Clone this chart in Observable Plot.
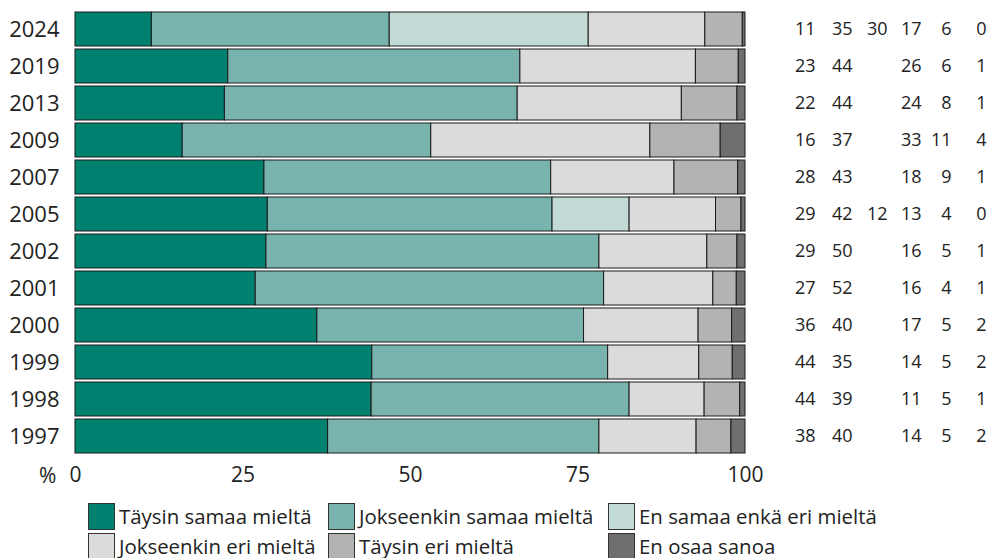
<!DOCTYPE html>
<html>
<head>
<meta charset="utf-8">
<script src="https://cdn.jsdelivr.net/npm/d3@7"></script>
<script src="https://cdn.jsdelivr.net/npm/@observablehq/plot@0.6"></script>
<style>
  body { margin: 0; background: #fff; font-family: "Open Sans", sans-serif; color: #222; }
  #chart svg { display: block; }
  .legend { display: grid; grid-template-columns: 240px 280px auto; grid-auto-rows: 29.4px; padding-left: 88px; margin-top: 6px; font-size: 20.4px; line-height: 1.2; }
  .item { display: flex; align-items: center; white-space: nowrap; }
  .sw { width: 25px; height: 25px; border: 1px solid #333; margin-right: 4px; flex: none; }
</style>
</head>
<body>
<div id="chart"></div>
<div class="legend" id="legend"></div>
<script>
const years = ["2024","2019","2013","2009","2007","2005","2002","2001","2000","1999","1998","1997"];
const categories = ["Täysin samaa mieltä","Jokseenkin samaa mieltä","En samaa enkä eri mieltä","Jokseenkin eri mieltä","Täysin eri mieltä","En osaa sanoa"];
const colors = ["#00806f","#78b4ad","#c2dbd7","#dbdbdb","#b3b3b3","#716e6f"];

// bar lengths
const taysinSamaa    = [11.4, 22.8, 22.3, 16.0, 28.2, 28.7, 28.5, 26.9, 36.1, 44.3, 44.2, 37.7];
const jokseenSamaa   = [35.5, 43.6, 43.7, 37.1, 42.8, 42.5, 49.7, 52.0, 39.8, 35.2, 38.5, 40.5];
const enSamaaEnkaEri = [29.7, 0, 0, 0, 0, 11.5, 0, 0, 0, 0, 0, 0];
const jokseenEri     = [17.4, 26.2, 24.5, 32.7, 18.4, 12.9, 16.1, 16.3, 17.1, 13.6, 11.2, 14.5];
const taysinEri      = [5.6, 6.4, 8.3, 10.5, 9.5, 3.8, 4.5, 3.5, 5.0, 5.0, 5.3, 5.2];
const enOsaa         = [0.4, 1.0, 1.2, 3.7, 1.1, 0.6, 1.2, 1.3, 2.0, 1.9, 0.8, 2.1];

// printed labels on the right
const lab1 = [11, 23, 22, 16, 28, 29, 29, 27, 36, 44, 44, 38];
const lab2 = [35, 44, 44, 37, 43, 42, 50, 52, 40, 35, 39, 40];
const lab3 = [30, null, null, null, null, 12, null, null, null, null, null, null];
const lab4 = [17, 26, 24, 33, 18, 13, 16, 16, 17, 14, 11, 14];
const lab5 = [6, 6, 8, 11, 9, 4, 5, 4, 5, 5, 5, 5];
const lab6 = [0, 1, 1, 4, 1, 0, 1, 1, 2, 2, 1, 2];

const xTicks = [0, 25, 50, 75, 100];
const unitLabel = "%";

const series = [taysinSamaa, jokseenSamaa, enSamaaEnkaEri, jokseenEri, taysinEri, enOsaa];
const labels = [lab1, lab2, lab3, lab4, lab5, lab6];
const labelDx = [70, 107, 142, 176, 206, 241];

const data = [];
years.forEach((y, i) => {
  series.forEach((s, c) => {
    if (s[i] > 0) data.push({year: y, cat: categories[c], value: s[i]});
  });
});

const labelMarks = labels.map((arr, c) =>
  Plot.text(years.map((y, i) => ({year: y, t: arr[i] == null ? "" : String(arr[i])})), {
    y: "year", text: "t", frameAnchor: "right", textAnchor: "end", dx: labelDx[c],
    fontSize: 18, fill: "#222"
  })
);

const chart = Plot.plot({
  width: 991,
  height: 496,
  marginLeft: 75,
  marginRight: 246,
  marginTop: 7,
  marginBottom: 38,
  style: {fontFamily: "Open Sans", color: "#222", background: "#fff"},
  x: {domain: [0, 100], label: null},
  y: {domain: years, paddingInner: 0.09, paddingOuter: 0, label: null},
  color: {domain: categories, range: colors},
  marks: [
    Plot.barX(data, Plot.stackX({x: "value", y: "year", fill: "cat", order: categories, stroke: "#1a1a1a", strokeWidth: 1})),
    Plot.axisX({ticks: xTicks, tickSize: 0, tickPadding: 9, fontSize: 21, tickFormat: d => String(d), label: null, fill: "#222"}),
    Plot.axisY({tickSize: 0, tickPadding: 16, fontSize: 22, label: null, fill: "#222"}),
    ...labelMarks,
    Plot.text([unitLabel], {frameAnchor: "bottom-left", lineAnchor: "middle", dx: -36.5, dy: 17.4, text: d => d, fontSize: 21, fill: "#222"})
  ]
});
document.getElementById("chart").appendChild(chart);

const legend = document.getElementById("legend");
categories.forEach((c, i) => {
  const it = document.createElement("div");
  it.className = "item";
  const sw = document.createElement("span");
  sw.className = "sw";
  sw.style.background = colors[i];
  it.appendChild(sw);
  it.appendChild(document.createTextNode(c));
  legend.appendChild(it);
});
</script>
</body>
</html>
